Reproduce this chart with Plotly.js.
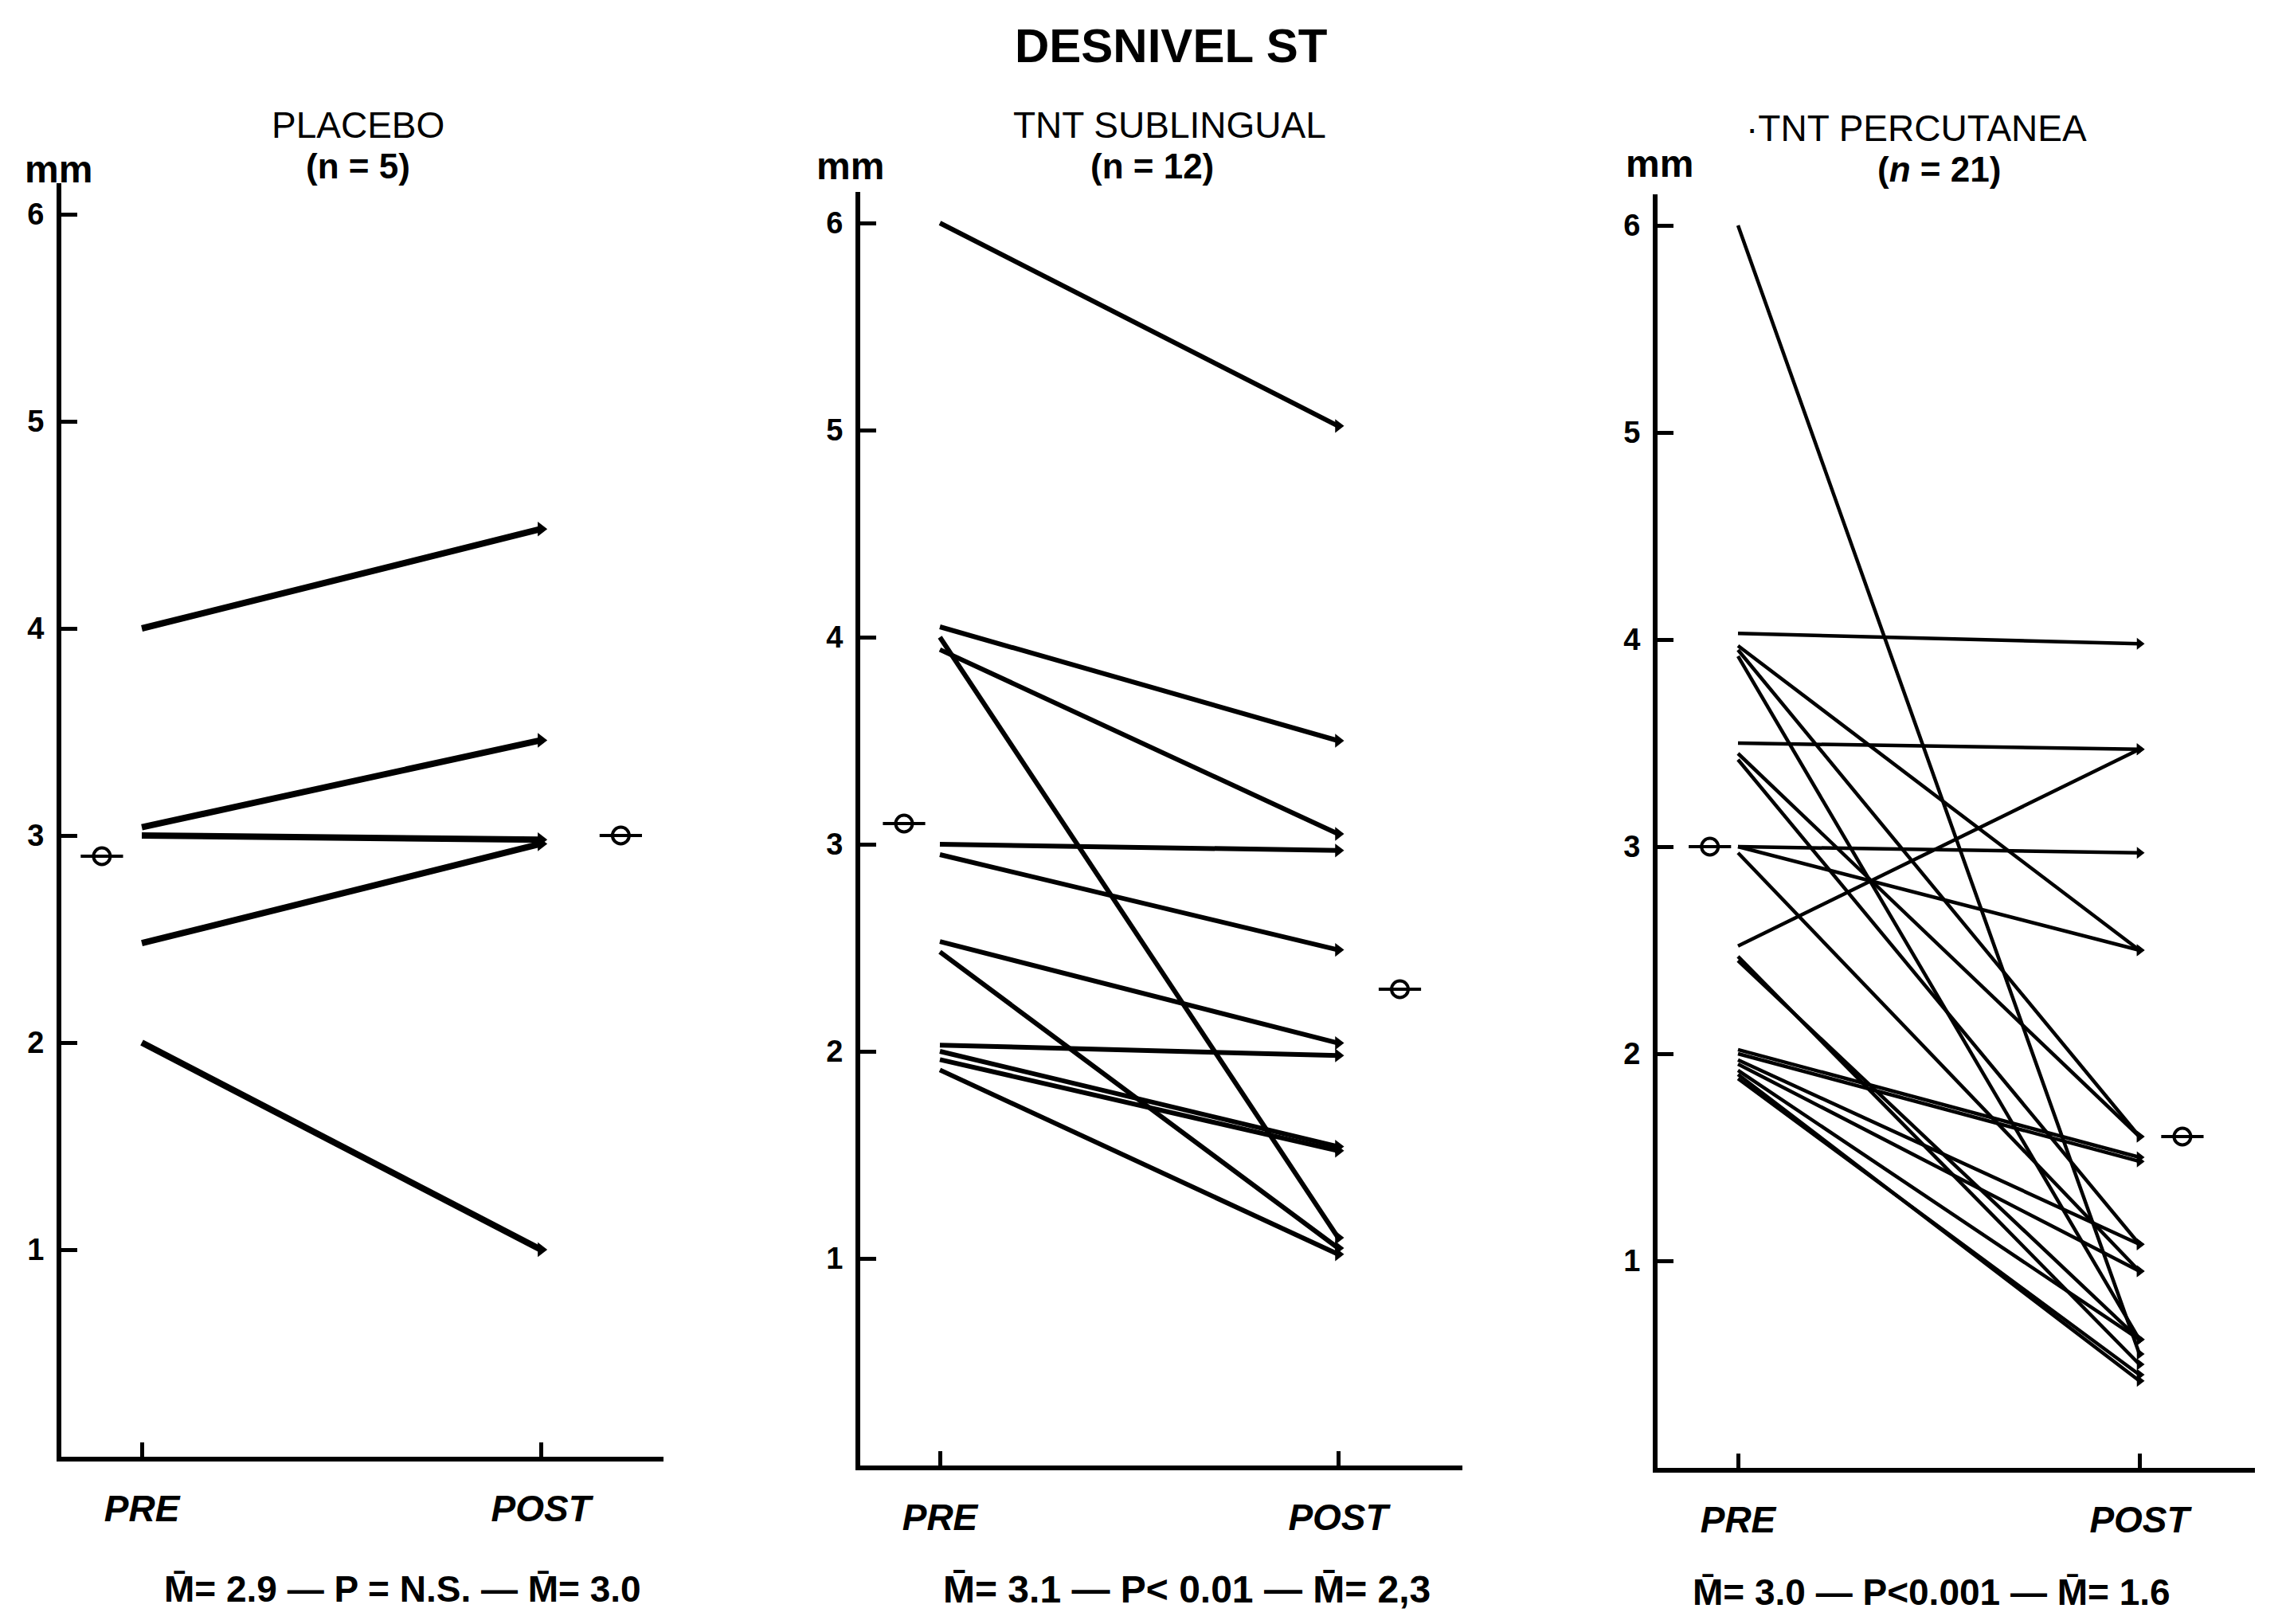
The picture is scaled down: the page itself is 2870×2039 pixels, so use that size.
<!DOCTYPE html>
<html>
<head>
<meta charset="utf-8">
<script src="https://cdn.plot.ly/plotly-3.0.1.min.js"></script>
<style>html,body{margin:0;padding:0;background:#fff;}#chart{width:2870px;height:2039px;}</style>
</head>
<body>
<div id="chart"></div>
<script>
// ---------- DATA ----------
const stages = ["PRE", "POST"];
const yTicks = [1, 2, 3, 4, 5, 6];

const placeboPre  = [4.0, 3.04, 3.0, 2.48, 2.0];
const placeboPost = [4.48, 3.46, 2.98, 2.96, 1.0];
const placeboMeans = [2.9, 3.0];

const sublingualPre  = [6.0, 4.05, 3.94, 4.0, 3.0, 2.95, 2.53, 2.48, 2.03, 2.0, 1.96, 1.91];
const sublingualPost = [5.02, 3.5, 3.05, 1.1, 2.97, 2.49, 2.04, 1.05, 1.98, 1.54, 1.52, 1.02];
const sublingualMeans = [3.1, 2.3];

const percutaneaPre  = [6.0, 4.03, 3.97, 3.95, 3.92, 3.5, 3.45, 3.42, 3.0, 3.0, 2.97, 2.52, 2.47, 2.45, 2.02, 2.0, 1.97, 1.95, 1.92, 1.9, 1.88];
const percutaneaPost = [0.55, 3.98, 2.5, 1.6, 0.62, 3.47, 1.6, 1.08, 2.97, 2.5, 0.95, 3.47, 0.5, 0.62, 1.5, 1.48, 1.08, 0.95, 0.62, 0.42, 0.45];
const percutaneaMeans = [3.0, 1.6];

const mainTitle = "DESNIVEL ST";
const panelTitles = ["PLACEBO", "TNT SUBLINGUAL", "·TNT PERCUTANEA"];
const panelN = ["(n = 5)", "(n = 12)", "(<i>n</i> = 21)"];
const panelStats = [
  "M\u0304= 2.9 \u2014 P = N.S. \u2014 M\u0304= 3.0",
  "M\u0304= 3.1 \u2014 P< 0.01 \u2014 M\u0304= 2,3",
  "M\u0304= 3.0 \u2014 P<0.001 \u2014 M\u0304= 1.6"
];
const yUnit = "mm";

// ---------- LAYOUT HELPERS ----------
const W = 2870, H = 2039;
const px = x => x / W;
const py = y => 1 - y / H;
const FONT = "Liberation Sans, Arial, sans-serif";

const panels = [
  {pre: placeboPre, post: placeboPost, means: placeboMeans, xa: 'x', ya: 'y',
   xdom: [77, 833], xr: [-0.2016, 1.307], y0: 1829, lw: 8, ms: 16, meanX: [-0.1, 1.2],
   title: [450, 157], n: [450, 209], mm: [73, 212], stats: [505, 1995, 'center']},
  {pre: sublingualPre, post: sublingualPost, means: sublingualMeans, xa: 'x2', ya: 'y2',
   xdom: [1080, 1836], xr: [-0.2, 1.312], y0: 1840, lw: 6, ms: 15, meanX: [-0.09, 1.155],
   title: [1468, 157], n: [1446, 209], mm: [1067, 209], stats: [1490, 1995, 'center']},
  {pre: percutaneaPre, post: percutaneaPost, means: percutaneaMeans, xa: 'x3', ya: 'y3',
   xdom: [2081, 2831], xr: [-0.2004, 1.2877], y0: 1843, lw: 4.5, ms: 13, meanX: [-0.07, 1.107],
   title: [2190, 161, 'left'], n: [2434, 212], mm: [2083, 205], stats: [2123, 1999, 'left']}
];

const traces = [];
const layout = {
  width: W, height: H,
  margin: {l: 0, r: 0, t: 0, b: 0},
  paper_bgcolor: '#fff', plot_bgcolor: '#fff',
  showlegend: false,
  font: {family: FONT, color: '#000'},
  annotations: []
};

panels.forEach((p, k) => {
  const xs = stages.map((_, i) => i);
  p.pre.forEach((v, i) => {
    traces.push({type: 'scatter', mode: 'lines', x: xs, y: [p.pre[i], p.post[i]],
      xaxis: p.xa, yaxis: p.ya, line: {color: '#000', width: p.lw}, hoverinfo: 'skip'});
  });
  traces.push({type: 'scatter', mode: 'markers', x: p.post.map(() => xs[1]), y: p.post,
    xaxis: p.xa, yaxis: p.ya, marker: {symbol: 'triangle-right', size: p.ms, color: '#000'}, hoverinfo: 'skip'});
  traces.push({type: 'scatter', mode: 'markers', x: p.meanX, y: p.means,
    xaxis: p.xa, yaxis: p.ya, marker: {symbol: 'line-ew-open', size: 38, color: '#000', line: {width: 4, color: '#000'}}, hoverinfo: 'skip'});
  traces.push({type: 'scatter', mode: 'markers', x: p.meanX, y: p.means,
    xaxis: p.xa, yaxis: p.ya, marker: {symbol: 'circle-open', size: 21, color: '#000', line: {width: 4, color: '#000'}}, hoverinfo: 'skip'});

  const sfx = k === 0 ? '' : String(k + 1);
  const yTop = p.y0 - 6.15 * 260;
  layout['xaxis' + sfx] = {
    domain: [px(p.xdom[0]), px(p.xdom[1])], range: p.xr, anchor: p.ya,
    showline: true, linewidth: 6, linecolor: '#000', showgrid: false, zeroline: false,
    tickmode: 'array', tickvals: xs, ticktext: stages.map(s => '<i>' + s + '</i>'),
    ticks: 'inside', ticklen: 18, tickwidth: 5, tickcolor: '#000',
    tickfont: {family: FONT, size: 46, color: '#000', weight: 'bold'},
    ticklabelstandoff: 20, fixedrange: true
  };
  layout['yaxis' + sfx] = {
    domain: [py(p.y0), py(yTop)], range: [0, 6.15], anchor: p.xa,
    showline: true, linewidth: 6, linecolor: '#000', showgrid: false, zeroline: false,
    tickmode: 'array', tickvals: yTicks, ticktext: yTicks.map(String),
    ticks: 'inside', ticklen: 20, tickwidth: 5, tickcolor: '#000',
    tickfont: {family: FONT, size: 38, color: '#000', weight: 'bold'},
    ticklabelstandoff: 8, fixedrange: true
  };

  const ann = (txt, pos, size, bold, anchor) => layout.annotations.push({
    text: bold ? '<b>' + txt + '</b>' : txt, x: px(pos[0]), y: py(pos[1]), xref: 'paper', yref: 'paper',
    xanchor: anchor || 'center', yanchor: 'middle', showarrow: false,
    font: {family: FONT, size: size, color: '#000'}
  });
  ann(panelTitles[k], p.title, 46, false, p.title[2]);
  ann(panelN[k], p.n, 44, true);
  ann(yUnit, p.mm, 48, true);
  ann(panelStats[k], p.stats, k === 1 ? 48 : 46, true, p.stats[2]);
});

layout.annotations.push({
  text: '<b>' + mainTitle + '</b>', x: px(1470), y: py(57), xref: 'paper', yref: 'paper',
  xanchor: 'center', yanchor: 'middle', showarrow: false,
  font: {family: FONT, size: 60, color: '#000'}
});

Plotly.newPlot('chart', traces, layout, {staticPlot: true, displayModeBar: false});
</script>
</body>
</html>
